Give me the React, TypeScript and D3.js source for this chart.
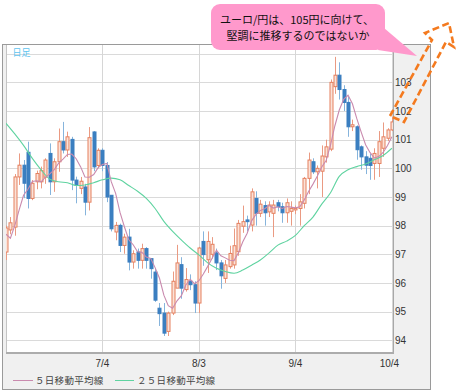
import React from 'react';
import * as d3 from 'd3';

// trading-day index of each date label (6/4 = day 0)
const tickLabels = ['7/4', '8/3', '9/4', '10/4'];
const tickDays = [22, 44, 66, 88];
const priceTicks = [94, 95, 96, 97, 98, 99, 100, 101, 102, 103];
const gridPrices = [94, 95, 96, 97, 98, 99, 100, 101, 102, 103, 104];

// EUR/JPY daily candles
const opens = [97.08, 97.85, 97.95, 99.7, 100.11, 100.56, 98.95, 99.53, 99.53, 99.69,
  100.52, 99.53, 100.23, 100.93, 100.64, 101.01, 99.59, 99.3, 99.35, 98.82,
  101.27, 100.1, 100.63, 100.1, 99.06, 97.78, 98.01, 97.31, 97.6, 96.73,
  97.08, 96.79, 97.2, 96.85, 96.38, 95.12, 94.95, 94.31, 94.95, 95.82,
  96.64, 95.77, 96.06, 95.94, 95.3, 97.45, 96.81, 97.0, 97.05, 96.7,
  96.16, 96.57, 96.63, 97.09, 97.98, 98.2, 98.02, 98.95, 98.43, 98.7,
  98.48, 98.43, 98.8, 98.66, 98.45, 98.5, 98.55, 98.6, 98.78, 99.65,
  100.23, 99.88, 99.9, 100.4, 100.67, 102.85, 103.25, 102.75, 102.3, 101.45,
  101.45, 100.75, 100.4, 100.35, 100.17, 100.17, 100.7, 101.05, 101.34];
const highs = [98.0, 98.3, 99.8, 100.52, 100.29, 100.93, 99.59, 99.92, 100.06, 100.35,
  100.87, 100.35, 101.39, 101.62, 101.28, 101.1, 99.71, 99.7, 99.46, 101.44,
  101.3, 100.7, 100.7, 100.22, 99.06, 98.13, 98.07, 97.72, 97.89, 97.14,
  97.2, 97.37, 97.25, 96.85, 96.5, 95.3, 95.3, 95.0, 96.4, 97.33,
  96.9, 96.52, 96.3, 96.06, 97.26, 97.8, 97.8, 97.6, 97.2, 96.8,
  96.8, 97.3, 97.9, 98.2, 98.7, 98.35, 99.3, 99.2, 98.9, 98.85,
  98.85, 98.9, 98.9, 98.8, 98.95, 98.85, 98.7, 99.1, 99.7, 100.55,
  100.35, 100.1, 100.8, 101.0, 103.1, 103.89, 103.7, 102.9, 102.5, 101.7,
  101.5, 100.8, 100.6, 100.5, 100.7, 101.3, 101.6, 101.4, 101.8];
const lows = [96.8, 97.7, 97.65, 99.42, 98.96, 98.6, 98.89, 99.27, 99.3, 99.46,
  99.07, 99.18, 99.88, 100.52, 100.4, 99.24, 98.78, 99.1, 98.36, 98.53,
  99.9, 100.0, 99.9, 98.82, 97.8, 97.49, 97.08, 97.02, 96.44, 96.5,
  96.5, 96.5, 96.5, 96.15, 95.34, 94.5, 94.15, 94.15, 94.88, 95.82,
  95.45, 95.7, 95.75, 94.95, 94.95, 96.6, 96.35, 96.85, 96.45, 95.8,
  96.0, 96.5, 96.5, 96.95, 97.75, 97.8, 97.8, 98.0, 98.3, 98.0,
  98.3, 97.6, 98.5, 98.1, 98.1, 98.0, 98.4, 98.0, 98.6, 99.1,
  99.8, 99.3, 99.0, 100.2, 100.6, 102.6, 102.4, 102.0, 101.1, 101.3,
  100.3, 99.95, 99.8, 99.6, 99.6, 99.7, 100.4, 100.95, 101.3];
const closes = [97.92, 98.1, 99.7, 100.11, 99.48, 98.95, 99.48, 99.82, 99.92, 100.29,
  99.53, 100.23, 100.93, 100.64, 101.1, 99.59, 99.42, 99.55, 98.82, 101.07,
  100.05, 100.63, 100.1, 99.0, 97.89, 98.01, 97.31, 97.6, 96.73, 97.02,
  96.79, 97.2, 96.79, 96.5, 95.4, 94.93, 94.25, 94.95, 96.06, 96.7,
  95.82, 96.12, 95.94, 95.3, 97.22, 96.99, 97.45, 97.35, 96.7, 96.25,
  96.63, 97.03, 97.3, 98.08, 98.14, 98.14, 99.18, 98.43, 98.75, 98.45,
  98.72, 98.72, 98.66, 98.45, 98.8, 98.6, 98.6, 98.83, 99.65, 100.29,
  99.88, 100.0, 100.43, 100.75, 103.0, 103.25, 102.75, 102.3, 101.45, 101.52,
  100.65, 100.4, 100.11, 100.1, 100.52, 100.93, 101.1, 101.34, 101.62];

// 5-day MA for the first 4 days (earlier closes not shown)
const ma5Head = [97.7, 97.56, 98.0, 98.55];
// 25-day MA, every second trading day
const ma25Values = [101.57, 101.2, 100.8, 100.35, 99.95, 99.62, 99.53, 99.5, 99.4, 99.42,
  99.5, 99.6, 99.66, 99.6, 99.4, 99.2, 98.95, 98.6, 98.15, 97.8,
  97.5, 97.22, 96.98, 96.7, 96.51, 96.4, 96.34, 96.45, 96.62, 96.8,
  97.05, 97.32, 97.46, 97.66, 98.0, 98.3, 98.75, 99.15, 99.72, 99.95,
  100.06, 100.15, 100.3, 100.45, 100.7];

const plot = { left: 6, right: 393, top: 44, bottom: 353 };

export default function App() {
  const x = d3.scaleLinear().domain([0, 88]).range([6, 391.9]);
  const y = d3.scaleLinear().domain([94, 104]).range([340.3, 53.7]);

  const ma5 = closes.map((c, i) =>
    i < 4 ? ma5Head[i] : d3.mean(closes.slice(i - 4, i + 1)) as number);
  const ma5Line = d3.line<number>().x((_, i) => x(i)).y(v => y(v));
  const ma25Line = d3.line<number>().x((_, i) => x(i * 2)).y(v => y(v)).curve(d3.curveMonotoneX);

  const jp = '"Noto Sans CJK JP", sans-serif';
  const num = '"Liberation Sans", Arial, sans-serif';

  const arrow = 'M390,116 L432,40 L425,33 L449,23 L454,47 L446,42 L404,122 Z';

  return (
    <div style={{ position: 'absolute', left: 0, top: 0 }}>
      <svg width={457} height={391} style={{ display: 'block' }}>
        <defs>
          <clipPath id="plotClip">
            <rect x={plot.left} y={plot.top} width={plot.right - plot.left} height={plot.bottom - plot.top} />
          </clipPath>
        </defs>
        {/* frame */}
        <rect x={2.5} y={44.5} width={428} height={345} fill="#f0f0f0" stroke="#9a9a9a" />
        <rect x={plot.left} y={45} width={plot.right - plot.left} height={plot.bottom - 45} fill="#fff" />
        {/* grid */}
        {gridPrices.map(p => (
          <line key={p} x1={plot.left} x2={plot.right} y1={Math.round(y(p)) + 0.5} y2={Math.round(y(p)) + 0.5}
            stroke="#dadada" />
        ))}
        {tickDays.map(d => (
          <line key={d} x1={Math.round(x(d)) + 0.5} x2={Math.round(x(d)) + 0.5} y1={45} y2={plot.bottom}
            stroke="#d6d6d6" />
        ))}
        <line x1={plot.left + 0.5} x2={plot.left + 0.5} y1={45} y2={plot.bottom} stroke="#c4c4c4" />
        <line x1={plot.right + 0.5} x2={plot.right + 0.5} y1={45} y2={plot.bottom + 1} stroke="#a8a8a8" />
        <line x1={plot.left} x2={plot.right + 1} y1={plot.bottom} y2={plot.bottom} stroke="#acacac" strokeWidth={2} />

        <g clipPath="url(#plotClip)">
          {/* candles */}
          {closes.map((c, i) => {
            const o = opens[i];
            const up = c >= o;
            const cx = Math.round(x(i)) + 0.5;
            const top = y(Math.max(o, c));
            const bot = y(Math.min(o, c));
            return (
              <g key={i}>
                <line x1={cx} x2={cx} y1={y(highs[i])} y2={y(lows[i])}
                  stroke={up ? '#ea9a82' : '#86b4dc'} />
                <rect x={cx - 1.5} y={top} width={3} height={Math.max(bot - top, 1)}
                  fill={up ? '#fbe2d8' : '#3b7fc0'} stroke={up ? '#e5805f' : '#3b7fc0'} strokeWidth={1} />
              </g>
            );
          })}
          <path d={ma25Line(ma25Values) || ''} fill="none" stroke="#5fd3a0" strokeWidth={1.1} />
          <path d={ma5Line(ma5) || ''} fill="none" stroke="#c98aae" strokeWidth={1.1} />
        </g>

        {/* y labels */}
        {priceTicks.map(p => (
          <text key={p} x={395} y={y(p) + 3.8} fontSize={10} fontFamily={num} fill="#333">{p}</text>
        ))}
        {/* x labels */}
        {tickDays.map((d, i) => (
          <text key={d} x={x(d) - (i === 3 ? 2.5 : 0)} y={366.5} fontSize={10} fontFamily={num}
            fill="#333" textAnchor="middle">{tickLabels[i]}</text>
        ))}

        <text x={12.5} y={55.5} fontSize={9} fontFamily={jp} fill="#5ec3ef">日足</text>

        {/* legend */}
        <line x1={13} x2={33} y1={380.5} y2={380.5} stroke="#c98aae" />
        <text x={35} y={384} fontSize={9.5} fontFamily={jp} fill="#444" letterSpacing={0.3}>５日移動平均線</text>
        <line x1={115} x2={134} y1={380.5} y2={380.5} stroke="#5fd3a0" />
        <text x={137} y={384} fontSize={9.5} fontFamily={jp} fill="#444" letterSpacing={0.3}>２５日移動平均線</text>

        {/* callout */}
        <path d="M384,28 L417,56 L378,50 Z" fill="#ff99cc" />
        <rect x={211} y={4} width={174} height={46} rx={9} fill="#ff99cc" />
        <text x={297} y={24} fontSize={11} fontFamily={jp} fill="#111" textAnchor="middle">ユーロ/円は、105円に向けて、</text>
        <text x={298} y={40} fontSize={11} fontFamily={jp} fill="#111" textAnchor="middle">堅調に推移するのではないか</text>

        {/* arrow */}
        <path d={arrow} fill="none" stroke="#f47a1f" strokeWidth={2.6} strokeDasharray="7 3.5" strokeLinejoin="miter" />
      </svg>
    </div>
  );
}
